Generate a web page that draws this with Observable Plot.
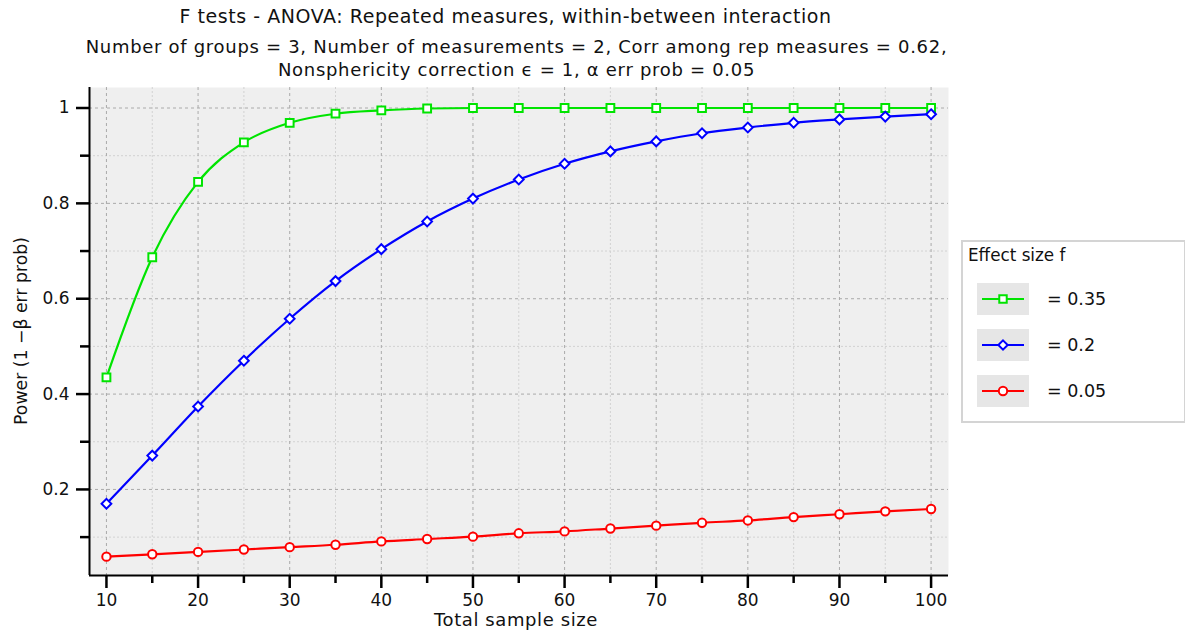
<!DOCTYPE html>
<html>
<head>
<meta charset="utf-8">
<script src="https://cdn.jsdelivr.net/npm/d3@7"></script>
<script src="https://cdn.jsdelivr.net/npm/@observablehq/plot@0.6"></script>
<style>
  body { margin: 0; background: #fff; font-family: "DejaVu Sans", sans-serif; }
  #wrap { position: relative; width: 1185px; height: 639px; overflow: hidden; }
  .t { position: absolute; white-space: nowrap; color: #111; }
  #chart { position: absolute; left: 0; top: 80px; }
  #legend { position: absolute; left: 961px; top: 240px; width: 221px; height: 179px; border: 2px solid #d4d4d4; background: #fff; }
</style>
</head>
<body>
<div id="wrap">
  <div class="t" style="left:0;width:1011px;top:5px;text-align:center;font-size:19px;letter-spacing:0.55px;">F tests - ANOVA: Repeated measures, within-between interaction</div>
  <div class="t" style="left:0;width:1033px;top:35px;text-align:center;font-size:18px;letter-spacing:0.7px;line-height:23px;">Number of groups = 3, Number of measurements = 2, Corr among rep measures = 0.62,<br>Nonsphericity correction ϵ = 1, α err prob = 0.05</div>
  <div id="chart"></div>
  <div id="legend"></div>
</div>
<script>
const sampleSize = [10,15,20,25,30,35,40,45,50,55,60,65,70,75,80,85,90,95,100];
const power035 = [0.435,0.687,0.845,0.928,0.969,0.988,0.995,0.999,1,1,1,1,1,1,1,1,1,1,1];
const power020 = [0.170,0.271,0.374,0.470,0.558,0.637,0.704,0.762,0.810,0.850,0.883,0.909,0.930,0.947,0.959,0.969,0.976,0.982,0.987];
const power005 = [0.059,0.064,0.069,0.074,0.079,0.084,0.091,0.096,0.101,0.108,0.112,0.118,0.124,0.130,0.135,0.142,0.148,0.154,0.159];
const seriesNames = ["= 0.35", "= 0.2", "= 0.05"];
const seriesColors = ["#00e400", "#0000ff", "#ff0000"];
const seriesSymbols = ["square", "diamond2", "circle"];
const xMajor = [10,20,30,40,50,60,70,80,90,100];
const xMinor = [15,25,35,45,55,65,75,85,95];
const yMajor = [0.2,0.4,0.6,0.8,1];
const yMinor = [0.1,0.3,0.5,0.7,0.9];
const yTickLabels = ["0.2","0.4","0.6","0.8","1"];

const seriesValues = [power035, power020, power005];
const rows = [];
seriesValues.forEach((vals, s) => vals.forEach((v, i) => rows.push({n: sampleSize[i], p: v, s})));

const xDom = [8.15, 101.9];
const yDom = [0.0195, 1.043];
const font = "DejaVu Sans, sans-serif";

const marks = [
  Plot.frame({fill: "#efefef", stroke: null}),
  Plot.gridX(xMinor, {stroke: "#d2d2d2", strokeOpacity: 1, strokeDasharray: "2,2"}),
  Plot.gridY(yMinor, {stroke: "#d2d2d2", strokeOpacity: 1, strokeDasharray: "2,2"}),
  Plot.gridX(xMajor, {stroke: "#aaaaaa", strokeOpacity: 1, strokeDasharray: "3,3"}),
  Plot.gridY(yMajor, {stroke: "#aaaaaa", strokeOpacity: 1, strokeDasharray: "3,3"}),
];
seriesValues.forEach((vals, s) => {
  const data = rows.filter(d => d.s === s);
  marks.push(Plot.line(data, {x: "n", y: "p", stroke: seriesColors[s], strokeWidth: 2.2, curve: "monotone-x"}));
});
seriesValues.forEach((vals, s) => {
  const data = rows.filter(d => d.s === s);
  marks.push(Plot.dot(data, {x: "n", y: "p", stroke: seriesColors[s], fill: "white", strokeWidth: 2, symbol: seriesSymbols[s], r: s === 2 ? 4.2 : 4.4}));
});
marks.push(
  Plot.axisX(xMajor, {tickSize: 13, tickPadding: 5, strokeWidth: 2.5, stroke: "#000", fontSize: 17, fill: "#111", label: null}),
  Plot.axisX(xMinor, {tickSize: 8, strokeWidth: 2.5, stroke: "#000", text: null, label: null}),
  Plot.axisY(yMajor, {tickSize: 13, tickPadding: 7, strokeWidth: 2.5, stroke: "#000", fontSize: 17, fill: "#111", label: null, tickFormat: (d, i) => yTickLabels[i]}),
  Plot.axisY(yMinor, {tickSize: 9, strokeWidth: 2.5, stroke: "#000", text: null, label: null}),
  Plot.ruleX([xDom[0]], {stroke: "#000", strokeWidth: 2}),
  Plot.ruleY([yDom[0]], {stroke: "#000", strokeWidth: 2})
);

const chart = Plot.plot({
  width: 960,
  height: 559,
  marginTop: 7,
  marginLeft: 89,
  marginRight: 12,
  marginBottom: 64,
  style: {fontFamily: font, background: "transparent", overflow: "visible"},
  x: {domain: xDom},
  y: {domain: yDom},
  marks
});
document.getElementById("chart").appendChild(chart);

// axis titles
const svg = d3.select(chart);
svg.append("text").attr("x", 516).attr("y", 546).attr("text-anchor", "middle")
  .attr("font-size", 18).attr("letter-spacing", "0.6px").attr("fill", "#111").attr("font-family", font).text("Total sample size");
svg.append("text").attr("transform", "translate(27,251) rotate(-90)").attr("text-anchor", "middle")
  .attr("font-size", 17.3).attr("fill", "#111").attr("font-family", font).text("Power (1 −β err prob)");

// legend
const lg = d3.select("#legend").append("svg").attr("width", 221).attr("height", 179)
  .style("font-family", font);
lg.append("text").attr("x", 5).attr("y", 19).attr("font-size", 16.8).attr("fill", "#111").text("Effect size f");
seriesNames.forEach((name, s) => {
  const y0 = 41 + s * 46;
  lg.append("rect").attr("x", 14).attr("y", y0).attr("width", 52).attr("height", 32).attr("fill", "#e6e6e6");
  lg.append("line").attr("x1", 19).attr("x2", 61).attr("y1", y0 + 16).attr("y2", y0 + 16)
    .attr("stroke", seriesColors[s]).attr("stroke-width", 2.2);
  const sym = {square: d3.symbolSquare, diamond2: d3.symbolDiamond2, circle: d3.symbolCircle}[seriesSymbols[s]];
  lg.append("path").attr("d", d3.symbol(sym, Math.PI * 4.2 * 4.2)())
    .attr("transform", `translate(40,${y0 + 16})`).attr("fill", "white").attr("stroke", seriesColors[s]).attr("stroke-width", 2);
  lg.append("text").attr("x", 84).attr("y", y0 + 16).attr("dy", "0.35em").attr("font-size", 17.5).attr("fill", "#111").text(name);
});
</script>
</body>
</html>
